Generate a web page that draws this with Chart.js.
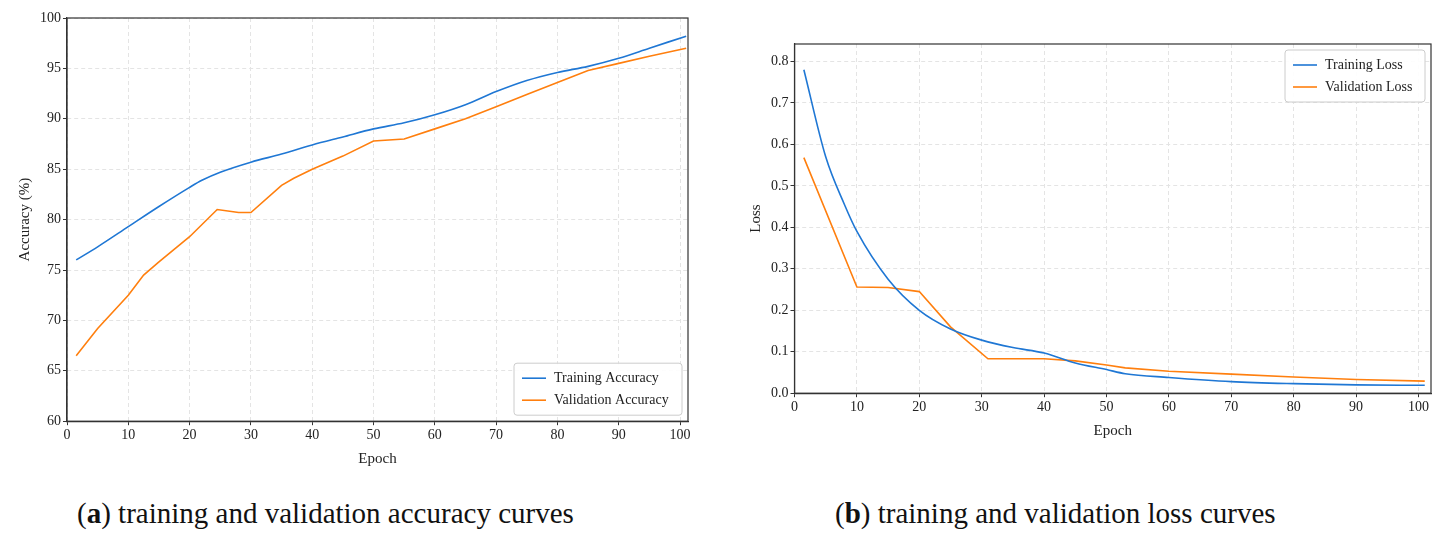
<!DOCTYPE html>
<html><head><meta charset="utf-8">
<script src="https://cdn.jsdelivr.net/npm/chart.js@4"></script>
<style>
body{margin:0;background:#fff;width:1442px;height:543px;position:relative;overflow:hidden;font-family:"Liberation Serif",serif}
.cap{position:absolute;top:497px;font-size:29px;color:#111;white-space:nowrap}
</style></head><body>
<div id="w1" style="position:absolute;left:0;top:0;width:700px;height:480px"><canvas id="c1"></canvas></div>
<div id="w2" style="position:absolute;left:735px;top:28px;width:707px;height:430px"><canvas id="c2"></canvas></div>
<div class="cap" style="left:77px">(<b>a</b>) training and validation accuracy curves</div>
<div class="cap" style="left:835px">(<b>b</b>) training and validation loss curves</div>
<script>
const trainAccX=[1.5,5,10,15,20,22,25,30,35,40,45,50,55,60,65,70,75,80,85,90,95,101];
const trainAccY=[76,77.3,79.3,81.3,83.2,83.9,84.7,85.7,86.5,87.4,88.2,89,89.6,90.4,91.4,92.7,93.8,94.6,95.2,96,97,98.2];
const valAccX=[1.5,5,10,12.5,15,20,24.5,28,30,35,37,40,45,50,55,60,65,70,75,80,85,90,95,101];
const valAccY=[66.5,69.2,72.5,74.5,75.8,78.3,81,80.7,80.7,83.4,84.1,85,86.3,87.8,88,89,90,91.2,92.4,93.6,94.8,95.5,96.2,97];
const trainLossX=[1.5,5,8,10,15,20,25,30,35,40,45,50,53,60,70,80,90,101];
const trainLossY=[0.78,0.57,0.455,0.39,0.275,0.2,0.155,0.128,0.11,0.097,0.073,0.057,0.047,0.038,0.028,0.023,0.02,0.019];
const valLossX=[1.5,10,15,20,25,31,40,45,50,53,60,70,80,90,101];
const valLossY=[0.568,0.256,0.255,0.245,0.16,0.083,0.083,0.078,0.068,0.061,0.053,0.046,0.039,0.033,0.029];
const accTicks=[60,65,70,75,80,85,90,95,100];
const lossTicks=[0,0.1,0.2,0.3,0.4,0.5,0.6,0.7,0.8];
const xTicks=[0,10,20,30,40,50,60,70,80,90,100];
const BLUE='#1f77d4',ORANGE='#ff7f0e';
const pts=(xs,ys)=>xs.map((x,i)=>({x,y:ys[i]}));
Chart.defaults.font.family='"Liberation Serif",serif';
Chart.defaults.color='#222';
const legendBox={id:'lb',afterDraw(ch,a,o){const c=ch.ctx,ds=ch.data.datasets;const ca=ch.chartArea;
 c.save();c.font='14px "Liberation Serif"';const w=o.w,h=52;
 const x=ca.right-w-6, y=o.top?ca.top+6:ca.bottom-h-6;
 c.fillStyle='rgba(255,255,255,0.9)';c.strokeStyle='#ccc';c.lineWidth=1;
 c.beginPath();c.roundRect(x,y,w,h,3);c.fill();c.stroke();
 ds.forEach((d,i)=>{const yy=y+15+i*22;c.strokeStyle=d.borderColor;c.lineWidth=1.6;c.beginPath();c.moveTo(x+8,yy);c.lineTo(x+32,yy);c.stroke();
 c.fillStyle='#222';c.textBaseline='middle';c.fillText(d.label,x+40,yy);});c.restore();}};
function mk(id,dsA,dsB,labA,labB,ymin,ymax,yt,ylab,xmax,lopt,pad,yfmt){
 new Chart(document.getElementById(id),{type:'line',
 data:{datasets:[{label:labA,data:dsA,borderColor:BLUE,borderWidth:1.6,pointRadius:0,tension:0.3,cubicInterpolationMode:'monotone'},
 {label:labB,data:dsB,borderColor:ORANGE,borderWidth:1.6,pointRadius:0,tension:0}]},
 options:{responsive:true,maintainAspectRatio:false,animation:false,layout:{padding:pad},
 plugins:{legend:{display:false},tooltip:{enabled:false},lb:lopt},
 scales:{x:{type:'linear',min:0,max:xmax,afterBuildTicks:s=>{s.ticks=xTicks.map(v=>({value:v}))},
   grid:{color:'#e4e4e4',drawTicks:true,tickLength:4,tickColor:'#333'},border:{color:'#333',width:1.2,dash:[4,3]},
   ticks:{font:{size:14},color:'#222',maxRotation:0,padding:2},title:{display:true,text:'Epoch',font:{size:15},padding:{top:4}}},
  y:{min:ymin,max:ymax,afterBuildTicks:s=>{s.ticks=yt.map(v=>({value:v}))},
   grid:{color:'#e4e4e4',tickLength:4,tickColor:'#333'},border:{color:'#333',width:1.2,dash:[4,3]},
   ticks:{font:{size:14},color:'#222',padding:2,callback:yfmt},title:{display:true,text:ylab,font:{size:15},padding:{bottom:4}}}}},
 plugins:[legendBox,{id:'frame',afterDraw(ch){const c=ch.ctx,a=ch.chartArea;c.save();c.strokeStyle='#333';c.lineWidth=1.2;c.strokeRect(a.left,a.top,a.right-a.left,a.bottom-a.top);c.restore();}}]});
}
mk('c1',pts(trainAccX,trainAccY),pts(valAccX,valAccY),'Training Accuracy','Validation Accuracy',60,100,accTicks,'Accuracy (%)',101.3,{w:168,top:false},{left:12,top:18,right:12,bottom:8},v=>v);
mk('c2',pts(trainLossX,trainLossY),pts(valLossX,valLossY),'Training Loss','Validation Loss',0,0.842,lossTicks,'Loss',102,{w:140,top:true},{left:8,top:16,right:11,bottom:14},v=>v.toFixed(1));
</script></body></html>
